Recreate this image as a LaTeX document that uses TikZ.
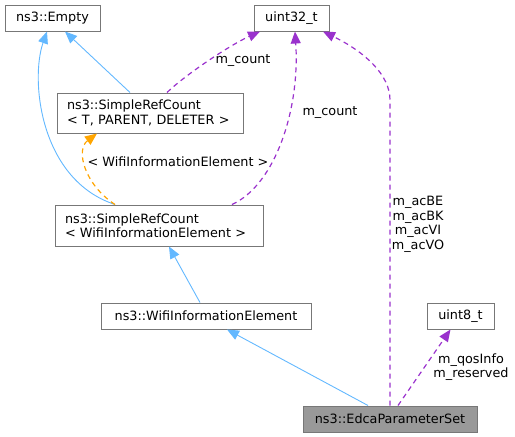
\documentclass[tikz,border=0pt]{standalone}
\usepackage{fontspec}
\setmainfont{DejaVu Sans}
\usetikzlibrary{arrows.meta}
\definecolor{edgeblue}{HTML}{63B8FF}
\definecolor{edgepurple}{HTML}{9A32CD}
\definecolor{edgeorange}{HTML}{FFA500}
\definecolor{boxborder}{HTML}{777777}
\definecolor{rootfill}{HTML}{999999}
\begin{document}
\begin{tikzpicture}[x=1pt,y=-1pt, font=\fontsize{12.8}{14.5}\selectfont,
 box/.style={draw=boxborder, fill=white, line width=1pt, inner sep=0pt, minimum height=26pt, anchor=center},
 tip/.style={-{Triangle[length=12pt,width=10pt]}},
 inh/.style={tip, draw=edgeblue, line width=0.9pt},
 usage/.style={tip, draw=edgepurple, dash pattern=on 5pt off 4pt, line width=1.2pt},
 tmpl/.style={tip, draw=edgeorange, dash pattern=on 5pt off 4pt, line width=1.2pt},
 lbl/.style={inner sep=0pt, align=center}]
\useasboundingbox (0,0) rectangle (515,437);
\node[box, minimum width=95pt] (empty) at (52.5,18) {ns3::Empty};
\node[box, minimum width=75pt] (u32) at (291.5,18) {uint32\_t};
\node[box, minimum width=186pt, minimum height=40pt, text width=166pt, align=left] (srct) at (150,113) {ns3::SimpleRefCount\\< T, PARENT, DELETER >};
\node[box, minimum width=208pt, minimum height=41pt, text width=188pt, align=left] (srcw) at (159,225.5) {ns3::SimpleRefCount\\< WifiInformationElement >};
\node[box, minimum width=210pt] (wie) at (206,316) {ns3::WifiInformationElement};
\node[box, minimum width=67pt] (u8) at (460.5,316) {uint8\_t};
\node[box, minimum width=174pt, fill=rootfill, draw=boxborder] (edca) at (390,419) {ns3::EdcaParameterSet};

% inheritance
\draw[inh] ([xshift=-20pt]srct.north) -- ([xshift=12.5pt]empty.south);
\draw[inh] ([xshift=-44pt]srcw.north) .. controls (40,180) and (30,80) .. ([xshift=-5.5pt]empty.south);
\draw[inh] ([xshift=-6pt]wie.north) -- ([xshift=10pt]srcw.south);
\draw[inh] ([xshift=-22pt]edca.north) -- ([xshift=21pt]wie.south);

% template
\draw[tmpl] ([xshift=-44pt]srcw.north) .. controls (85,185) and (75,150) .. ([xshift=-53pt]srct.south);
\node[lbl] (ltmpl) at (178,162) {< WifiInformationElement >};

% usage
\draw[usage] ([xshift=17pt]srct.north) .. controls (185,75) and (230,45) .. ([xshift=-31.5pt]u32.south);
\node[lbl] (lc1) at (243,61) {m\_count};
\draw[usage] ([xshift=73pt]srcw.north) .. controls (275,185) and (300,110) .. ([xshift=3.5pt]u32.south);
\node[lbl] (lc2) at (330,113) {m\_count};
\draw[usage] (edca.north) -- (390,100) .. controls (390,75) and (365,52) .. ([xshift=31.5pt]u32.south);
\node[lbl] (lac) at (418,224.5) {m\_acBE\\m\_acBK\\m\_acVI\\m\_acVO};
\draw[usage] ([xshift=8pt]edca.north) -- ([xshift=-10pt]u8.south);
\node[lbl] (lq) at (471,367) {m\_qosInfo\\m\_reserved};
\end{tikzpicture}
\end{document}
